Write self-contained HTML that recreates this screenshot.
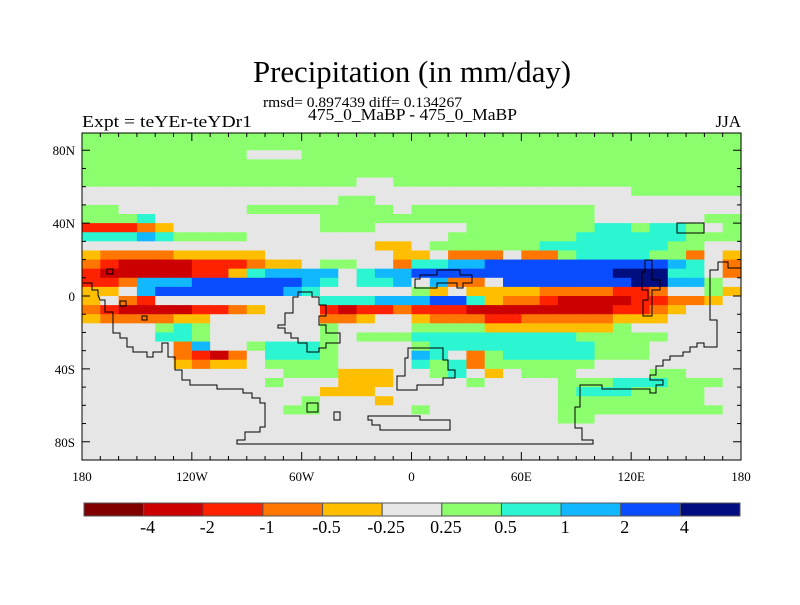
<!DOCTYPE html>
<html><head><meta charset="utf-8"><style>
body{margin:0;background:#fff;}
svg text{font-family:"Liberation Serif",serif;fill:#000;}
</style></head><body>
<svg id="chart" width="800" height="600" viewBox="0 0 800 600" xmlns="http://www.w3.org/2000/svg">
<rect width="800" height="600" fill="#fff"/>
<text x="412" y="82" font-size="31" text-anchor="middle" textLength="318" lengthAdjust="spacingAndGlyphs">Precipitation (in mm/day)</text>
<text x="263" y="107" font-size="15" textLength="199" lengthAdjust="spacingAndGlyphs">rmsd= 0.897439 diff= 0.134267</text>
<text x="308" y="120" font-size="17" textLength="209" lengthAdjust="spacingAndGlyphs">475_0_MaBP - 475_0_MaBP</text>
<text x="82" y="127" font-size="17" textLength="170" lengthAdjust="spacingAndGlyphs">Expt = teYEr-teYDr1</text>
<text x="741" y="127" font-size="17" text-anchor="end">JJA</text>
<g id="cells"></g>
<g id="coast" fill="none" stroke="#000" stroke-width="1">
<path d="M83,283 L92,283 92,290 98,290 98,295 100,300 105,300 105,312 113,312 113,333 120,333 120,338 127,338 127,347 133,347 133,352 147,352 147,357 153,357 153,352 162,352 162,343 168,343 168,357 175,357 175,370 182,370 182,380 190,380 190,385 217,385 217,389 243,389 243,393 252,393 252,398 260,398 260,403 265,403 265,427 260,427 260,432 245,432 245,440 237,440 237,444 593,444 593,440 582,440 582,428 575,428 575,407 580,407 580,385 602,385 602,389 650,389 650,393 656,393 656,385 663,385 663,380 650,380 650,375 656,375 656,366 663,366 663,360 670,360 670,356 683,356 683,352 690,352 690,347 697,347 697,343 704,343 704,347 717,347 717,320 710,320 710,270 718,270 718,262 728,262 728,268 741,268"/>
<path d="M298,292 L312,292 312,297 319,297 319,305 326,305 326,316 319,316 319,325 326,325 326,333 340,333 340,343 326,343 326,348 319,348 319,352 307,352 307,343 298,343 298,338 291,338 291,333 285,333 285,328 278,328 278,325 285,325 285,313 293,313 293,297 298,297Z"/>
<path d="M408,348 L443,348 443,360 448,360 448,370 455,370 455,378 443,378 443,385 417,385 417,390 397,390 397,376 405,376 405,358 408,358Z"/>
<path d="M415,288 L415,279 420,279 420,275 437,275 437,270 460,270 460,275 472,275 472,283 463,283 463,288 457,288 457,283 437,283 437,288Z"/>
<path d="M645,260 L652,260 652,280 660,280 660,290 652,290 652,316 643,316 643,300 648,300 648,290 642,290 642,272 645,272Z"/>
<path d="M368,416 L420,416 420,420 450,420 450,430 380,430 380,425 372,425 372,420 368,420Z"/>
<rect x="677" y="223" width="27" height="10"/>
<rect x="307" y="403" width="11" height="9"/>
<rect x="334" y="412" width="6" height="8"/>
<rect x="107" y="269" width="6" height="5"/>
<rect x="120" y="301" width="6" height="5"/>
<rect x="142" y="316" width="5" height="4"/>
</g>
<rect x="82" y="133" width="659" height="327" fill="none" stroke="#000" stroke-width="1"/>
<g id="axes"></g>
<g id="cbar"></g>
</svg>
<script>
const thresholds=[-4,-2,-1,-0.5,-0.25,0.25,0.5,1,2,4];
const colors=["#800000","#cc0000","#ff2200","#ff7700","#ffbf00","#e6e6e6","#8cff6e","#2cf5d2","#12b8ff","#0a4cff","#000e80"];
const codes="ABCDE.gclbn";
const codeValues=[-5,-3,-1.5,-0.75,-0.35,0,0.35,0.75,1.5,3,5];
const lonTicks=[-180,-120,-60,0,60,120,180];
const lonTickLabels=["180","120W","60W","0","60E","120E","180"];
const latTicks=[80,40,0,-40,-80];
const latTickLabels=["80N","40N","0","40S","80S"];
const cbarLabels=["-4","-2","-1","-0.5","-0.25","0.25","0.5","1","2","4"];
const rows=[
"gggggggggggggggggggggggggggggggggggg",
"gggggggggggggggggggggggggggggggggggg",
"ggggggggg...gggggggggggggggggggggggg",
"gggggggggggggggggggggggggggggggggggg",
"gggggggggggggggggggggggggggggggggggg",
"ggggggggggggggg..ggggggggggggggggggg",
"..............................gggggg",
"..............gg....................",
"gg.......gggggggg.gggggggggg........",
"gggc.........ggggggggggggggg......gg",
"CCCDE........ggg.....gggggggccgccg.g",
"ccclcgggg...........gggggggccccccggg",
"................EE.ggggggcccccccgg...",
"EDDDDEEEEE.......EE.DDD.DDgccccggD.E",
"DCBBBBCCCDEE.gg..Dccllbbbbbbbbbblc.DE",
"CBBBBBCCEcllll.cllbbbbbbbbbbbnnncc.Dc",
"CCDlllbbbbbblc.ccl.lDD.bbbbbbbnnllg.EE",
"EE.lbbbbbbblc.....gE.EEEEDDDDCCD..gEE",
"E.DC.........ccclllbbcEDDCBBBBCCDDE.",
"DCBBBBCCDE...CBCCDCCCBBBBBBBBCCDE...",
"EDDDDEE......DDE..EDDDCCDDDDDEEE....",
"....gcg......g....ggggEEEEEEEg......",
"....ccg......g.gggcccccccccggggg....",
".....Dl..gcccg....gcccccccccggg.....",
".....DCBD.cccg....lc.Dgcccccggg.....",
".....EDEE.gggg....cgcDgggggg........",
"...........gggEEE..gc.E.ggg....gg...",
"..........g...EEE....g....gggcccggg.",
".............EEE..........gcccgggg..",
"............g...E.........gggggggg..",
"...........gg.....g.......ggggggggg.",
"..........................gg........",
"....................................",
"....................................",
"....................................",
"...................................."
];
const NS="http://www.w3.org/2000/svg";
const x0=82,x1=741,yEq=296,pxPerDeg=1.822;
function xScale(lon){return x0+(lon+180)/360*(x1-x0);}
function yScale(lat){return Math.min(460,Math.max(133,yEq-lat*pxPerDeg));}
function colorFor(v){let k=0;while(k<thresholds.length&&v>=thresholds[k])k++;return colors[k];}
function mk(tag,attrs,parent){const e=document.createElementNS(NS,tag);for(const k in attrs)e.setAttribute(k,attrs[k]);parent.appendChild(e);return e;}
const cells=document.getElementById('cells');
rows.forEach((row,j)=>{
  const latTop=90-5*j,latBot=latTop-5;
  for(let i=0;i<36;i++){
    const ch=row[i]||'.';
    const v=codeValues[Math.max(0,codes.indexOf(ch))];
    const xa=xScale(-180+10*i),xb=xScale(-170+10*i);
    const ya=yScale(latTop),yb=yScale(latBot);
    const r=mk('rect',{x:xa.toFixed(2),y:ya.toFixed(2),width:(xb-xa+0.6).toFixed(2),height:(yb-ya+0.6).toFixed(2),fill:colorFor(v)},cells);
    
    
  }
});
const axes=document.getElementById('axes');
for(let lon=-180;lon<=180;lon+=10){
  const x=xScale(lon),len=(lon%60===0)?8:4;
  mk('line',{x1:x,y1:460,x2:x,y2:460-len,stroke:'#000'},axes);
  mk('line',{x1:x,y1:133,x2:x,y2:133+len,stroke:'#000'},axes);
}
for(let lat=-80;lat<=80;lat+=10){
  const y=yScale(lat),len=(lat%40===0)?8:4;
  mk('line',{x1:82,y1:y,x2:82+len,y2:y,stroke:'#000'},axes);
  mk('line',{x1:741,y1:y,x2:741-len,y2:y,stroke:'#000'},axes);
}
lonTicks.forEach((lon,k)=>{
  const t=mk('text',{x:xScale(lon),y:481,'font-size':13,'text-anchor':'middle'},axes);
  t.textContent=lonTickLabels[k];
  
  
});
latTicks.forEach((lat,k)=>{
  const t=mk('text',{x:75,y:yScale(lat)+5,'font-size':13,'text-anchor':'end'},axes);
  t.textContent=latTickLabels[k];
  
  
});
const cbar=document.getElementById('cbar');
const cbx=84,cbw=656,cby=503,cbh=13,bw=cbw/colors.length;
colors.forEach((c,k)=>{
  const r=mk('rect',{x:cbx+k*bw,y:cby,width:bw,height:cbh,fill:c,stroke:'#555','stroke-width':1},cbar);
  
  
});
cbarLabels.forEach((l,k)=>{
  const t=mk('text',{x:cbx+(k+1)*bw+4,y:533,'font-size':18,'text-anchor':'middle'},cbar);
  t.textContent=l;
  
  
});
</script>
</body></html>
